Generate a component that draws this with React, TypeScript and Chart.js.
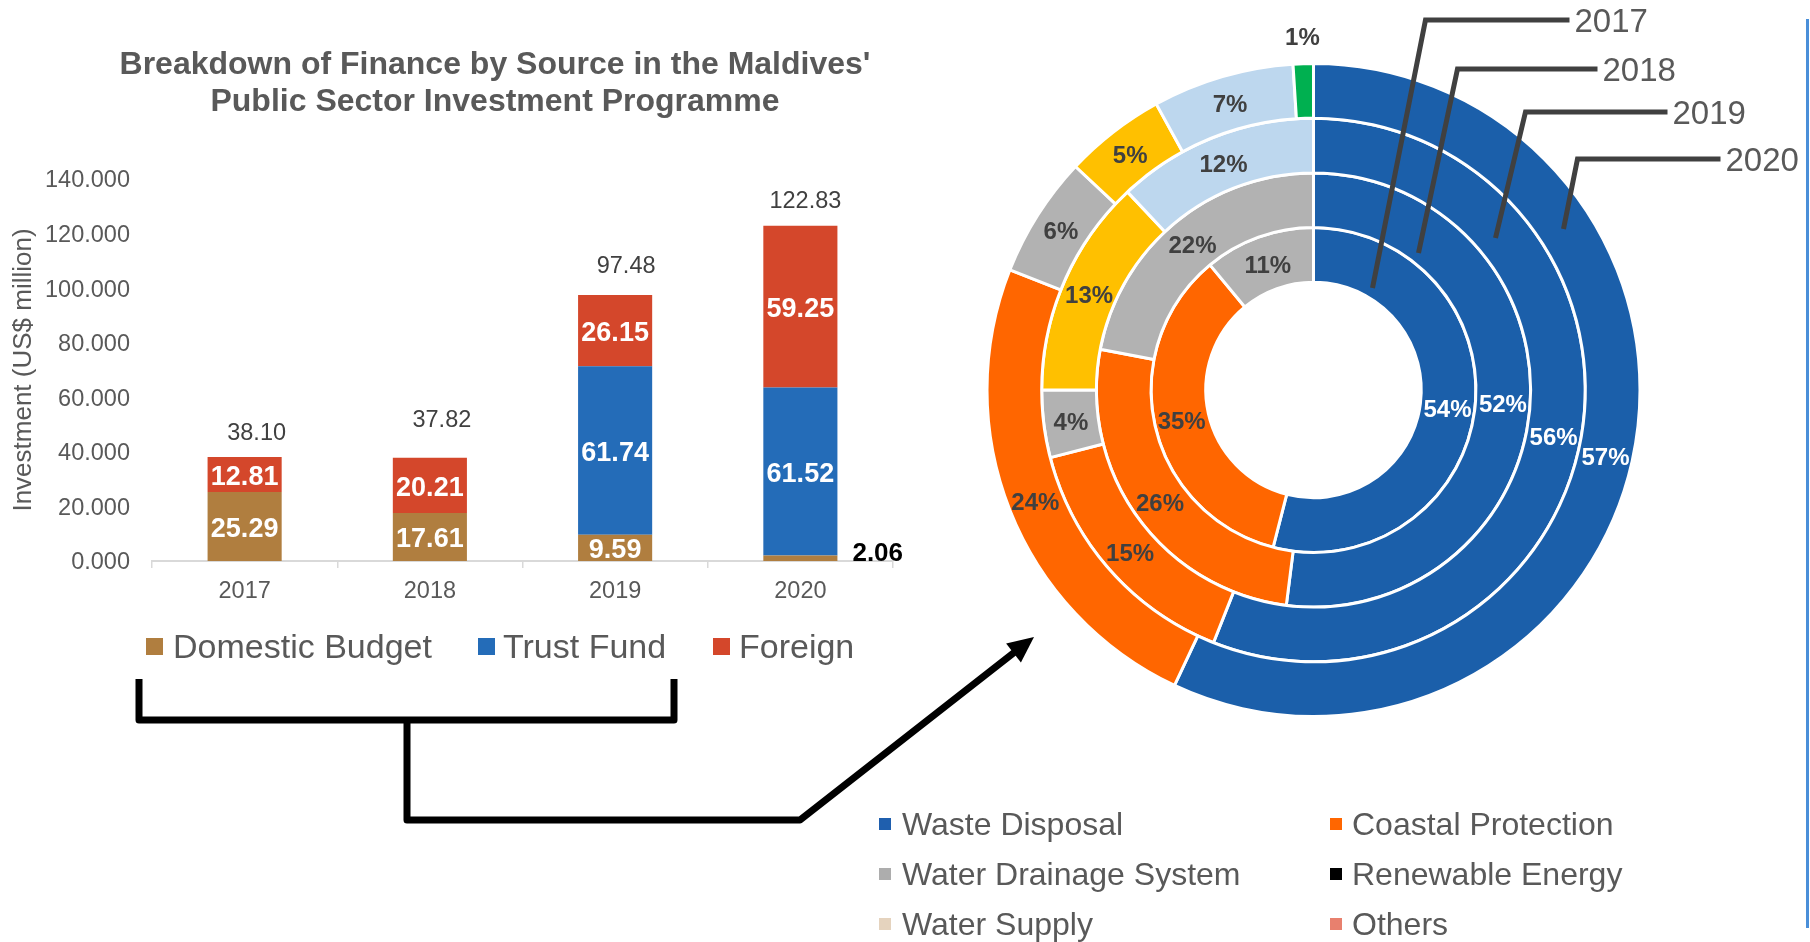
import React, { useEffect, useRef } from 'react';
import { Chart, registerables } from 'chart.js';

Chart.register(...registerables);

const FONT = "'Liberation Sans', Arial, Helvetica, sans-serif";

// ---------- Bar chart data ----------
const YEARS = ['2017', '2018', '2019', '2020'];
const DOMESTIC_BUDGET = [25.29, 17.61, 9.59, 2.06];
const TRUST_FUND = [0, 0, 61.74, 61.52];
const FOREIGN = [12.81, 20.21, 26.15, 59.25];
const TOTALS = [38.1, 37.82, 97.48, 122.83];
const Y_MIN = 0;
const Y_MAX = 140;
const Y_STEP = 20;
const SOURCES = ['Domestic Budget', 'Trust Fund', 'Foreign'];

// ---------- Doughnut data (share of investment by sector, %) ----------
const SECTORS = ['Waste Disposal', 'Coastal Protection', 'Water Drainage System', 'Renewable Energy', 'Water Supply', 'Others'];
const SHARE_2017 = [54, 35, 11, 0, 0, 0];
const SHARE_2018 = [52, 26, 22, 0, 0, 0];
const SHARE_2019 = [56, 15, 4, 13, 12, 0];
const SHARE_2020 = [57, 24, 6, 5, 7, 1];

// ---------- Styles ----------
const BAR_COLORS = ['#B07E3F', '#246CB8', '#D4472B'];
const RING_COLORS = ['#1B5FAA', '#FF6600', '#B2B2B2', '#FFC000', '#BDD7EE', '#00B050'];
const SECTOR_LEGEND_COLORS = ['#1F5FAE', '#FF6600', '#ADADAD', '#000000', '#E5D3BE', '#E8806E'];
const TEXT_GRAY = '#595959';
const DARK = '#404040';
const TOTAL_LABEL_SHIFT = [[12, -24], [12, -37], [11, -29], [5, -24]];
// leader lines for ring year labels, offsets from doughnut centre
const YEAR_LEADERS: Record<string, { end: number[]; elbow: number[]; right: number }> = {
  '2017': { end: [59, -102], elbow: [112, -370], right: 256 },
  '2018': { end: [105, -137], elbow: [144, -321], right: 284 },
  '2019': { end: [182, -152], elbow: [212, -278], right: 354 },
  '2020': { end: [250, -161], elbow: [264, -231], right: 407 },
};

const barDecor = {
  id: 'barDecor',
  afterDatasetsDraw(chart: any) {
    const ctx = chart.ctx as CanvasRenderingContext2D;
    ctx.save();
    chart.data.datasets.forEach((ds: any, di: number) => {
      const meta = chart.getDatasetMeta(di);
      meta.data.forEach((el: any, j: number) => {
        const v = ds.data[j] as number;
        if (!v) return;
        const { x, y, base, width } = el.getProps(['x', 'y', 'base', 'width'], true);
        const text = v.toFixed(2);
        ctx.textBaseline = 'middle';
        if (v < 5) {
          ctx.font = `bold 26px ${FONT}`;
          ctx.fillStyle = '#000';
          ctx.textAlign = 'left';
          ctx.fillText(text, x + width / 2 + 15, (y + base) / 2 - 4);
        } else {
          ctx.font = `bold 27px ${FONT}`;
          ctx.fillStyle = '#fff';
          ctx.textAlign = 'center';
          ctx.fillText(text, x, (y + base) / 2 + 3);
        }
      });
    });
    const yScale = chart.scales.y;
    const xScale = chart.scales.x;
    ctx.font = `23.5px ${FONT}`;
    ctx.fillStyle = DARK;
    ctx.textAlign = 'center';
    ctx.textBaseline = 'middle';
    TOTALS.forEach((t, j) => {
      const px = xScale.getPixelForValue(j);
      const py = yScale.getPixelForValue(t);
      ctx.fillText(t.toFixed(2), px + TOTAL_LABEL_SHIFT[j][0], py + TOTAL_LABEL_SHIFT[j][1]);
    });
    ctx.restore();
  },
  afterDraw(chart: any) {
    const ctx = chart.ctx as CanvasRenderingContext2D;
    ctx.save();
    // title
    ctx.font = `bold 32px ${FONT}`;
    ctx.fillStyle = TEXT_GRAY;
    ctx.textAlign = 'center';
    ctx.textBaseline = 'middle';
    ctx.fillText("Breakdown of Finance by Source in the Maldives'", 495, 65);
    ctx.fillText('Public Sector Investment Programme', 495, 102);
    // legend
    const markX = [146, 478, 713];
    const textX = [173, 503, 739];
    ctx.font = `34px ${FONT}`;
    ctx.textAlign = 'left';
    SOURCES.forEach((s, i) => {
      ctx.fillStyle = BAR_COLORS[i];
      ctx.fillRect(markX[i], 638, 17, 17);
      ctx.fillStyle = TEXT_GRAY;
      ctx.fillText(s, textX[i], 649);
    });
    // bracket + arrow
    ctx.strokeStyle = '#000';
    ctx.lineWidth = 7;
    ctx.lineJoin = 'round';
    ctx.beginPath();
    ctx.moveTo(139, 679);
    ctx.lineTo(139, 720);
    ctx.lineTo(674, 720);
    ctx.lineTo(674, 679);
    ctx.stroke();
    const tip = [1034, 637];
    const start = [800, 820];
    const dx = tip[0] - start[0];
    const dy = tip[1] - start[1];
    const len = Math.hypot(dx, dy);
    const ux = dx / len;
    const uy = dy / len;
    const headL = 26;
    const headW = 12;
    ctx.beginPath();
    ctx.moveTo(407, 720);
    ctx.lineTo(407, 820);
    ctx.lineTo(start[0], start[1]);
    ctx.lineTo(tip[0] - ux * (headL - 4), tip[1] - uy * (headL - 4));
    ctx.stroke();
    ctx.fillStyle = '#000';
    ctx.beginPath();
    ctx.moveTo(tip[0], tip[1]);
    ctx.lineTo(tip[0] - ux * headL - uy * headW, tip[1] - uy * headL + ux * headW);
    ctx.lineTo(tip[0] - ux * headL + uy * headW, tip[1] - uy * headL - ux * headW);
    ctx.closePath();
    ctx.fill();
    ctx.restore();
  },
};

const ringDecor = {
  id: 'ringDecor',
  afterDatasetsDraw(chart: any) {
    const ctx = chart.ctx as CanvasRenderingContext2D;
    ctx.save();
    ctx.font = `bold 24px ${FONT}`;
    ctx.textAlign = 'center';
    ctx.textBaseline = 'middle';
    chart.data.datasets.forEach((ds: any, di: number) => {
      const meta = chart.getDatasetMeta(di);
      meta.data.forEach((arc: any, j: number) => {
        const v = ds.data[j] as number;
        if (!v) return;
        const p = arc.getProps(['x', 'y', 'startAngle', 'endAngle', 'innerRadius', 'outerRadius'], true);
        const mid = (p.startAngle + p.endAngle) / 2;
        let r = (p.innerRadius + p.outerRadius) / 2;
        let color = j === 0 ? '#fff' : DARK;
        let dy = 3;
        if (v < 2) {
          r = p.outerRadius + 25;
          color = DARK;
          dy = 0;
        }
        ctx.fillStyle = color;
        ctx.fillText(`${v}%`, p.x + Math.cos(mid) * r, p.y + Math.sin(mid) * r + dy);
      });
    });
    ctx.restore();
  },
  afterDraw(chart: any) {
    const ctx = chart.ctx as CanvasRenderingContext2D;
    const first = chart.getDatasetMeta(0).data[0];
    const cx = first.x;
    const cy = first.y;
    ctx.save();
    // year leaders
    ctx.strokeStyle = DARK;
    ctx.lineWidth = 5;
    ctx.font = `33px ${FONT}`;
    ctx.fillStyle = TEXT_GRAY;
    ctx.textAlign = 'left';
    ctx.textBaseline = 'middle';
    chart.data.datasets.forEach((ds: any) => {
      const L = YEAR_LEADERS[ds.label];
      if (!L) return;
      ctx.beginPath();
      ctx.moveTo(cx + L.end[0], cy + L.end[1]);
      ctx.lineTo(cx + L.elbow[0], cy + L.elbow[1]);
      ctx.lineTo(cx + L.right, cy + L.elbow[1]);
      ctx.stroke();
      ctx.fillText(ds.label, cx + L.right + 5, cy + L.elbow[1] + 3);
    });
    // sector legend (2 columns x 3 rows)
    const colMark = [879, 1330];
    const colText = [902, 1352];
    const rowY = [824, 874, 924];
    ctx.font = `32px ${FONT}`;
    SECTORS.forEach((s, i) => {
      const c = i % 2;
      const r = Math.floor(i / 2);
      ctx.fillStyle = SECTOR_LEGEND_COLORS[i];
      ctx.fillRect(colMark[c], rowY[r] - 6, 12, 12);
      ctx.fillStyle = TEXT_GRAY;
      ctx.fillText(s, colText[c], rowY[r] + 2);
    });
    // right frame edge
    ctx.fillStyle = '#4A8FD9';
    ctx.fillRect(1806, 19, 3, 909);
    ctx.restore();
  },
};

export default function App() {
  const barRef = useRef<HTMLCanvasElement>(null);
  const ringRef = useRef<HTMLCanvasElement>(null);

  useEffect(() => {
    Chart.defaults.font.family = FONT;
    const bar = new Chart(barRef.current as HTMLCanvasElement, {
      type: 'bar',
      data: {
        labels: YEARS,
        datasets: [
          { label: SOURCES[0], data: DOMESTIC_BUDGET, backgroundColor: BAR_COLORS[0], borderWidth: 0, barPercentage: 0.4, categoryPercentage: 1 },
          { label: SOURCES[1], data: TRUST_FUND, backgroundColor: BAR_COLORS[1], borderWidth: 0, barPercentage: 0.4, categoryPercentage: 1 },
          { label: SOURCES[2], data: FOREIGN, backgroundColor: BAR_COLORS[2], borderWidth: 0, barPercentage: 0.4, categoryPercentage: 1 },
        ],
      },
      options: {
        responsive: false,
        maintainAspectRatio: false,
        animation: false,
        devicePixelRatio: 1,
        events: [],
        layout: { padding: { left: 0, top: 179, right: 917, bottom: 0 } },
        plugins: { legend: { display: false }, title: { display: false }, tooltip: { enabled: false } },
        scales: {
          x: {
            stacked: true,
            afterFit: (s: any) => { s.height = 381; },
            grid: { display: true, drawOnChartArea: false, drawTicks: true, tickLength: 7, color: '#D9D9D9', lineWidth: 1.5, offset: true },
            border: { display: true, color: '#D9D9D9', width: 2 },
            ticks: { color: TEXT_GRAY, font: { size: 23.5, family: FONT }, padding: 9 },
          },
          y: {
            stacked: true,
            min: Y_MIN,
            max: Y_MAX,
            afterFit: (s: any) => { s.width = 152; },
            grid: { display: false, drawTicks: false },
            border: { display: false },
            ticks: {
              stepSize: Y_STEP,
              color: TEXT_GRAY,
              font: { size: 23.5, family: FONT },
              padding: 22,
              labelOffset: 2,
              callback: (v: any) => Number(v).toFixed(3),
            },
            title: {
              display: true,
              text: 'Investment (US$ million)',
              color: TEXT_GRAY,
              font: { size: 26, family: FONT },
              padding: { top: 8, bottom: 0 },
            },
          },
        },
      } as any,
      plugins: [barDecor],
    });

    const ring = new Chart(ringRef.current as HTMLCanvasElement, {
      type: 'doughnut',
      data: {
        labels: SECTORS,
        datasets: [
          { label: '2020', data: SHARE_2020, backgroundColor: RING_COLORS, borderColor: '#fff', borderWidth: 3 },
          { label: '2019', data: SHARE_2019, backgroundColor: RING_COLORS, borderColor: '#fff', borderWidth: 3 },
          { label: '2018', data: SHARE_2018, backgroundColor: RING_COLORS, borderColor: '#fff', borderWidth: 3 },
          { label: '2017', data: SHARE_2017, backgroundColor: RING_COLORS, borderColor: '#fff', borderWidth: 3 },
        ],
      },
      options: {
        responsive: false,
        maintainAspectRatio: false,
        animation: false,
        devicePixelRatio: 1,
        events: [],
        cutout: '33%',
        layout: { padding: { left: 985.5, top: 62, right: 168.5, bottom: 224 } },
        plugins: { legend: { display: false }, title: { display: false }, tooltip: { enabled: false } },
      } as any,
      plugins: [ringDecor],
    });

    return () => {
      bar.destroy();
      ring.destroy();
    };
  }, []);

  return (
    <div style={{ position: 'fixed', left: 0, top: 0, width: 1810, height: 942, background: '#fff', overflow: 'hidden' }}>
      <canvas ref={barRef} width={1810} height={942} style={{ position: 'absolute', left: 0, top: 0 }} />
      <canvas ref={ringRef} width={1810} height={942} style={{ position: 'absolute', left: 0, top: 0 }} />
    </div>
  );
}
